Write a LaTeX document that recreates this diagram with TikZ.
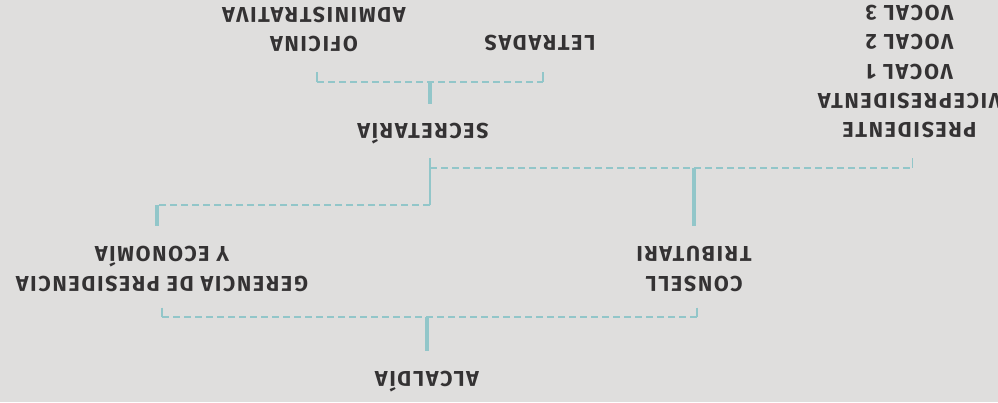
\documentclass[tikz,border=0pt]{standalone}
\usepackage{fontspec}
\setmainfont{Fira Sans}[LetterSpace=8]
\usepackage{tikz}
\definecolor{paper}{HTML}{DFDEDD}
\definecolor{ink}{HTML}{343233}
\definecolor{aqua}{HTML}{92C6C9}

\begin{document}
\begin{tikzpicture}[x=1pt, y=-1pt,
  unit/.style={text=ink, font=\bfseries\fontsize{21.5}{29.3}\selectfont, align=center, rotate=180, inner sep=0pt},
  stem/.style={draw=aqua, line width=4pt},
  rule/.style={draw=aqua, line width=2pt},
  tick/.style={draw=aqua, line width=1.5pt},
  link/.style={draw=aqua, line width=1.5pt, dash pattern=on 7pt off 4pt}]
  \fill[paper] (0,0) rectangle (998,402);
  \useasboundingbox (0,0) rectangle (998,402);

  % Nodes
  \node[unit, anchor=base] (alcaldia) at (427,371) {ALCALDÍA};
  \node[unit] (gerencia) at (162,269) {GERENCIA DE PRESIDENCIA\\Y ECONOMÍA};
  \node[unit] (consell) at (694,269) {CONSELL\\TRIBUTARI};
  \node[unit, anchor=base] (secretaria) at (423,123) {SECRETARÍA};
  \node[unit] (junta) at (909.5,71.5) {PRESIDENTE\\VICEPRESIDENTA\\VOCAL 1\\VOCAL 2\\VOCAL 3};
  \node[unit, anchor=base] (letradas) at (540,35) {LETRADAS};
  \node[unit] (oficina) at (314,29.5) {OFICINA\\ADMINISTRATIVA};

  % Junctions
  \coordinate (jBot) at (427,317);
  \coordinate (jMid) at (430,205);
  \coordinate (jUp) at (430,168);
  \coordinate (jTop) at (430,82);
  \coordinate (sTop) at ([yshift=19pt]secretaria.base);
  \coordinate (sBot) at ([yshift=-35pt]secretaria.base);
  \coordinate (gStem) at ([xshift=-5pt]gerencia.south);
  \coordinate (gTick) at ([yshift=-16pt]gerencia.north);
  \coordinate (cTick) at ([xshift=3pt,yshift=-16pt]consell.north);
  \coordinate (pTick) at ([xshift=3pt,yshift=-20pt]junta.north);
  \coordinate (oTick) at ([xshift=3pt,yshift=-20pt]oficina.north);
  \coordinate (lTick) at ([xshift=3pt,yshift=-37pt]letradas.base);

  % Edges
  \draw[link] (gTick |- jBot) -- (cTick |- jBot);
  \draw[tick] (gTick) -- (gTick |- jBot);
  \draw[tick] (cTick) -- (cTick |- jBot);
  \draw[stem] (jBot) -- ([yshift=20pt]alcaldia.base);
  \draw[link] (jMid) -- (gStem |- jMid);
  \draw[stem] (gStem |- jMid) -- ([yshift=20pt]gStem);
  \draw[rule] (jMid |- sBot) -- (jMid);
  \draw[link] (jUp) -- (pTick |- jUp);
  \draw[tick] (pTick) -- (pTick |- jUp);
  \draw[stem] (consell.south |- jUp) -- ([yshift=20pt]consell.south);
  \draw[stem] (jTop) -- (jTop |- sTop);
  \draw[link] (oTick |- jTop) -- (lTick |- jTop);
  \draw[tick] (oTick) -- (oTick |- jTop);
  \draw[tick] (lTick) -- (lTick |- jTop);
\end{tikzpicture}
\end{document}
